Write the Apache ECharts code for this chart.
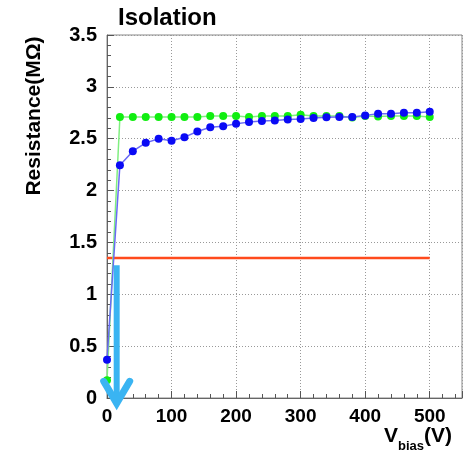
<!DOCTYPE html>
<html>
<head>
<meta charset="utf-8">
<script src="https://cdn.jsdelivr.net/npm/echarts@6/dist/echarts.min.js"></script>
<style>
  html, body { margin: 0; padding: 0; background: #fff; }
  #chart { width: 464px; height: 456px; }
</style>
</head>
<body>
<div id="chart"></div>
<script>
// Bias voltage (V) for the two measured curves
const biasGreen = [0, 20, 40, 60, 80, 100, 120, 140, 160, 180, 200, 220, 240, 260, 280, 300, 320, 340, 360, 380, 400, 420, 440, 460, 480, 500];
const resGreen  = [0.17, 2.71, 2.71, 2.71, 2.71, 2.71, 2.71, 2.71, 2.72, 2.72, 2.72, 2.71, 2.72, 2.72, 2.72, 2.73, 2.72, 2.72, 2.72, 2.705, 2.72, 2.715, 2.72, 2.72, 2.72, 2.71];

const biasBlue = [0, 20, 40, 60, 80, 100, 120, 140, 160, 180, 200, 220, 240, 260, 280, 300, 320, 340, 360, 380, 400, 420, 440, 460, 480, 500];
const resBlue  = [0.37, 2.245, 2.38, 2.46, 2.50, 2.48, 2.515, 2.57, 2.61, 2.62, 2.645, 2.66, 2.67, 2.675, 2.685, 2.69, 2.70, 2.706, 2.71, 2.71, 2.725, 2.74, 2.74, 2.75, 2.75, 2.76];

// Threshold level
const thresholdBias = [0, 500];
const thresholdRes = 1.35;

// Arrow marking the threshold crossing
const arrowBias = 15;
const arrowFrom = 1.28;
const arrowTo = -0.09;

const xTicks = { min: 0, max: 550, interval: 100 };
const yTicks = { min: 0, max: 3.5, interval: 0.5 };

const FONT = '"Liberation Sans", Arial, sans-serif';
const chart = echarts.init(document.getElementById('chart'), null, { renderer: 'canvas' });

function pairs(xs, ys) { return xs.map((x, i) => [x, ys[i]]); }

const axisCommon = {
  axisLine: { show: true, lineStyle: { color: '#666', width: 1 } },
  axisTick: { show: true, inside: true, length: 7, lineStyle: { color: '#555' } },
  minorTick: { show: true, splitNumber: 5, length: 4, lineStyle: { color: '#555' } },
  splitLine: { show: true, lineStyle: { color: '#999', type: [1, 2], width: 1 } },
  axisLabel: { color: '#000', fontFamily: FONT, fontWeight: 'bold', fontSize: 19 }
};

chart.setOption({
  animation: false,
  backgroundColor: '#fff',
  grid: { left: 107, right: 2, top: 35, bottom: 58, show: true, borderColor: '#888', borderWidth: 1 },
  xAxis: Object.assign({}, axisCommon, {
    type: 'value', min: xTicks.min, max: xTicks.max, interval: xTicks.interval,
    axisLabel: Object.assign({}, axisCommon.axisLabel, { margin: 9, showMaxLabel: false })
  }),
  yAxis: Object.assign({}, axisCommon, {
    type: 'value', min: yTicks.min, max: yTicks.max, interval: yTicks.interval,
    axisLabel: Object.assign({}, axisCommon.axisLabel, { margin: 10, fontSize: 20 })
  }),
  graphic: [
    {
      type: 'text', left: 118, top: 6,
      style: { text: 'Isolation', font: 'bold 24px ' + FONT, fill: '#000' }
    },
    {
      type: 'text', x: 34, y: 116, rotation: Math.PI / 2,
      style: { text: 'Resistance(MΩ)', font: 'bold 21px ' + FONT, fill: '#000', align: 'center', verticalAlign: 'middle' }
    },
    {
      type: 'text', left: 384, top: 426,
      style: {
        text: '{v|V}{s|bias}{v|(V)}',
        rich: {
          v: { font: 'bold 21px ' + FONT, fill: '#000', verticalAlign: 'bottom' },
          s: { font: 'bold 13px ' + FONT, fill: '#000', verticalAlign: 'bottom', padding: [0, 0, -6, 0] }
        }
      }
    }
  ],
  series: [
    {
      type: 'line', data: pairs(thresholdBias, [thresholdRes, thresholdRes]),
      symbol: 'none', lineStyle: { color: '#ff4a1c', width: 2.5 }, z: 2
    },
    {
      type: 'line', data: pairs(biasGreen, resGreen),
      symbol: 'circle', symbolSize: 8,
      itemStyle: { color: '#11ee11' }, lineStyle: { color: '#80ef80', width: 1.5 }, z: 3
    },
    {
      type: 'line', data: pairs(biasBlue, resBlue),
      symbol: 'circle', symbolSize: 8,
      itemStyle: { color: '#0a0af5' }, lineStyle: { color: '#6a6af5', width: 1.5 }, z: 4
    },
    {
      type: 'custom', clip: false, z: 10,
      data: [[arrowBias, arrowFrom, arrowTo]],
      renderItem: function (params, api) {
        const top = api.coord([api.value(0), api.value(1)]);
        const tip = api.coord([api.value(0), api.value(2)]);
        const color = '#3ab4f2';
        return {
          type: 'group',
          children: [
            { type: 'line', shape: { x1: top[0], y1: top[1], x2: tip[0], y2: tip[1] - 4 },
              style: { stroke: color, lineWidth: 6 } },
            { type: 'polyline', shape: { points: [[tip[0] - 13, tip[1] - 26], [tip[0], tip[1] - 4], [tip[0] + 13, tip[1] - 26]] },
              style: { stroke: color, lineWidth: 7, fill: null, lineJoin: 'miter', lineCap: 'round' } }
          ]
        };
      }
    }
  ]
});
</script>
</body>
</html>
